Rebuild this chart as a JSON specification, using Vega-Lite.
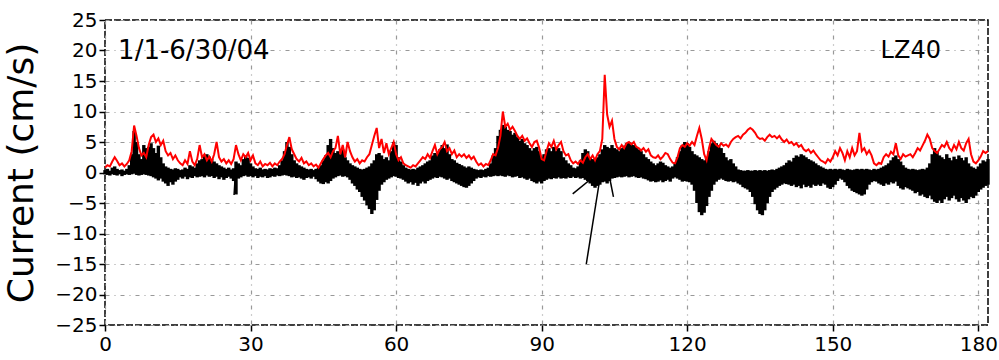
{
"$schema": "https://vega.github.io/schema/vega-lite/v6.json",
"width": 883, "height": 305,
"autosize": "none",
"padding": {"left": 105, "top": 20, "right": 11, "bottom": 35},
"background": "white",
"config": {
 "view": {"stroke": "black", "strokeWidth": 1.5, "strokeDash": [7, 2]},
 "axis": {"labelFont": "DejaVu Sans", "labelFontSize": 20, "labelColor": "black", "labelOverlap": false, "labelFlush": false, "tickColor": "black", "tickSize": 6, "tickWidth": 1.5, "domain": false, "grid": true, "gridColor": "#999999", "gridDash": [4, 5, 1, 5], "gridWidth": 1.2, "titleFont": "DejaVu Sans", "titleFontWeight": "normal", "titleColor": "black"}
},
"datasets": {
"series": [
{"t":0,"s":0.8,"p":0.4,"n":-0.3},{"t":0.5,"s":1.2,"p":0.6,"n":-0.4},{"t":1,"s":1.0,"p":0.3,"n":-0.5},{"t":1.5,"s":1.8,"p":0.8,"n":-0.3},{"t":2,"s":2.5,"p":1.0,"n":-0.4},{"t":2.5,"s":1.9,"p":0.6,"n":-0.5},{"t":3,"s":1.2,"p":0.4,"n":-0.3},{"t":3.5,"s":1.5,"p":0.5,"n":-0.6},{"t":4,"s":1.0,"p":0.3,"n":-0.4},{"t":4.5,"s":1.4,"p":0.6,"n":-0.3},
{"t":5,"s":2.0,"p":1.2,"n":-0.4},{"t":5.5,"s":3.5,"p":3.0,"n":-0.3},{"t":6,"s":7.7,"p":6.8,"n":-0.2},{"t":6.5,"s":6.0,"p":5.0,"n":-0.4},{"t":7,"s":4.0,"p":3.0,"n":-0.5},{"t":7.5,"s":2.8,"p":2.2,"n":-0.4},{"t":8,"s":3.2,"p":4.5,"n":-0.3},{"t":8.5,"s":2.5,"p":4.0,"n":-0.4},{"t":9,"s":4.5,"p":4.2,"n":-0.5},{"t":9.5,"s":5.8,"p":4.8,"n":-0.6},
{"t":10,"s":6.2,"p":4.0,"n":-0.8},{"t":10.5,"s":5.0,"p":3.2,"n":-1.0},{"t":11,"s":5.6,"p":4.4,"n":-1.3},{"t":11.5,"s":4.5,"p":2.5,"n":-1.0},{"t":12,"s":5.2,"p":1.5,"n":-1.5},{"t":12.5,"s":3.5,"p":1.0,"n":-1.8},{"t":13,"s":2.8,"p":0.8,"n":-2.2},{"t":13.5,"s":3.2,"p":0.6,"n":-1.6},{"t":14,"s":2.2,"p":0.5,"n":-2.0},{"t":14.5,"s":2.8,"p":0.7,"n":-1.5},
{"t":15,"s":2.0,"p":0.6,"n":-1.2},{"t":15.5,"s":1.5,"p":0.4,"n":-0.8},{"t":16,"s":1.2,"p":0.5,"n":-1.0},{"t":16.5,"s":2.0,"p":0.8,"n":-0.7},{"t":17,"s":1.4,"p":0.6,"n":-1.1},{"t":17.5,"s":3.5,"p":1.2,"n":-0.8},{"t":18,"s":1.8,"p":1.0,"n":-0.9},{"t":18.5,"s":1.2,"p":0.8,"n":-0.6},{"t":19,"s":2.2,"p":1.5,"n":-0.8},{"t":19.5,"s":4.5,"p":2.0,"n":-0.7},
{"t":20,"s":2.5,"p":2.2,"n":-0.6},{"t":20.5,"s":3.0,"p":2.8,"n":-0.8},{"t":21,"s":2.0,"p":3.0,"n":-0.5},{"t":21.5,"s":2.6,"p":2.6,"n":-0.7},{"t":22,"s":1.8,"p":2.2,"n":-0.6},{"t":22.5,"s":3.0,"p":1.8,"n":-0.9},{"t":23,"s":5.0,"p":1.5,"n":-0.7},{"t":23.5,"s":2.5,"p":1.2,"n":-1.1},{"t":24,"s":1.8,"p":1.0,"n":-0.8},{"t":24.5,"s":2.2,"p":0.8,"n":-1.2},
{"t":25,"s":1.5,"p":0.6,"n":-0.9},{"t":25.5,"s":2.0,"p":0.8,"n":-0.7},{"t":26,"s":1.4,"p":0.5,"n":-1.0},{"t":26.5,"s":2.2,"p":0.7,"n":-1.4},{"t":27,"s":4.5,"p":1.8,"n":-3.6},{"t":27.5,"s":3.0,"p":1.5,"n":-1.0},{"t":28,"s":2.0,"p":1.2,"n":-0.8},{"t":28.5,"s":3.0,"p":2.2,"n":-0.6},{"t":29,"s":2.5,"p":2.8,"n":-0.5},{"t":29.5,"s":3.2,"p":2.4,"n":-0.7},
{"t":30,"s":2.0,"p":1.5,"n":-0.6},{"t":30.5,"s":2.8,"p":1.0,"n":-0.8},{"t":31,"s":1.5,"p":0.7,"n":-0.6},{"t":31.5,"s":1.2,"p":0.6,"n":-0.9},{"t":32,"s":1.8,"p":0.8,"n":-0.7},{"t":32.5,"s":1.0,"p":0.5,"n":-0.8},{"t":33,"s":1.4,"p":0.6,"n":-0.6},{"t":33.5,"s":1.2,"p":0.5,"n":-0.9},{"t":34,"s":1.6,"p":0.7,"n":-0.8},{"t":34.5,"s":1.0,"p":0.6,"n":-0.6},
{"t":35,"s":1.5,"p":0.8,"n":-0.7},{"t":35.5,"s":1.2,"p":0.7,"n":-0.5},{"t":36,"s":1.8,"p":1.2,"n":-0.6},{"t":36.5,"s":2.2,"p":2.0,"n":-0.5},{"t":37,"s":3.0,"p":3.5,"n":-0.4},{"t":37.5,"s":4.5,"p":5.0,"n":-0.5},{"t":38,"s":5.8,"p":4.2,"n":-0.6},{"t":38.5,"s":3.8,"p":3.0,"n":-0.8},{"t":39,"s":3.0,"p":2.0,"n":-0.7},{"t":39.5,"s":2.2,"p":1.5,"n":-0.9},
{"t":40,"s":1.8,"p":1.2,"n":-0.8},{"t":40.5,"s":2.4,"p":1.0,"n":-1.0},{"t":41,"s":1.5,"p":0.8,"n":-1.2},{"t":41.5,"s":1.8,"p":0.6,"n":-0.9},{"t":42,"s":1.2,"p":0.5,"n":-0.8},{"t":42.5,"s":1.5,"p":0.6,"n":-1.0},{"t":43,"s":1.0,"p":0.4,"n":-0.7},{"t":43.5,"s":1.3,"p":0.6,"n":-1.1},{"t":44,"s":0.8,"p":0.8,"n":-1.5},{"t":44.5,"s":1.5,"p":1.2,"n":-1.8},
{"t":45,"s":2.2,"p":2.0,"n":-1.9},{"t":45.5,"s":2.8,"p":2.8,"n":-1.6},{"t":46,"s":3.2,"p":4.5,"n":-1.8},{"t":46.5,"s":2.5,"p":5.5,"n":-1.4},{"t":47,"s":3.5,"p":4.0,"n":-1.0},{"t":47.5,"s":4.0,"p":3.2,"n":-0.8},{"t":48,"s":6.0,"p":3.5,"n":-0.6},{"t":48.5,"s":3.0,"p":3.0,"n":-0.5},{"t":49,"s":4.5,"p":3.8,"n":-0.7},{"t":49.5,"s":2.5,"p":2.5,"n":-0.6},
{"t":50,"s":5.0,"p":2.0,"n":-0.8},{"t":50.5,"s":3.5,"p":1.5,"n":-1.2},{"t":51,"s":2.5,"p":1.2,"n":-1.8},{"t":51.5,"s":1.8,"p":1.0,"n":-2.2},{"t":52,"s":2.2,"p":0.8,"n":-2.8},{"t":52.5,"s":1.5,"p":0.6,"n":-3.2},{"t":53,"s":2.0,"p":0.5,"n":-4.0},{"t":53.5,"s":1.8,"p":0.6,"n":-4.6},{"t":54,"s":2.5,"p":0.8,"n":-5.4},{"t":54.5,"s":3.0,"p":1.0,"n":-6.0},
{"t":55,"s":4.5,"p":1.5,"n":-6.8},{"t":55.5,"s":6.0,"p":2.0,"n":-6.2},{"t":56,"s":7.3,"p":3.0,"n":-4.5},{"t":56.5,"s":4.0,"p":3.2,"n":-3.0},{"t":57,"s":5.5,"p":2.8,"n":-2.0},{"t":57.5,"s":3.2,"p":2.2,"n":-1.6},{"t":58,"s":4.8,"p":2.5,"n":-1.2},{"t":58.5,"s":3.0,"p":2.0,"n":-1.0},{"t":59,"s":4.0,"p":3.5,"n":-0.8},{"t":59.5,"s":5.0,"p":5.0,"n":-0.6},
{"t":60,"s":3.0,"p":4.5,"n":-0.7},{"t":60.5,"s":2.0,"p":2.5,"n":-0.9},{"t":61,"s":2.5,"p":1.8,"n":-1.0},{"t":61.5,"s":1.5,"p":1.2,"n":-1.2},{"t":62,"s":1.2,"p":0.8,"n":-1.5},{"t":62.5,"s":1.0,"p":0.6,"n":-1.8},{"t":63,"s":0.8,"p":0.5,"n":-1.6},{"t":63.5,"s":1.2,"p":0.6,"n":-2.0},{"t":64,"s":1.0,"p":0.5,"n":-1.7},{"t":64.5,"s":1.5,"p":0.8,"n":-2.2},
{"t":65,"s":2.0,"p":1.0,"n":-1.8},{"t":65.5,"s":2.5,"p":1.2,"n":-1.5},{"t":66,"s":2.2,"p":1.5,"n":-1.8},{"t":66.5,"s":3.0,"p":1.8,"n":-1.4},{"t":67,"s":2.4,"p":2.0,"n":-1.2},{"t":67.5,"s":3.5,"p":2.8,"n":-1.0},{"t":68,"s":4.5,"p":3.2,"n":-0.8},{"t":68.5,"s":3.0,"p":3.0,"n":-0.9},{"t":69,"s":3.8,"p":3.8,"n":-0.7},{"t":69.5,"s":4.2,"p":4.5,"n":-0.8},
{"t":70,"s":5.0,"p":4.0,"n":-1.0},{"t":70.5,"s":3.5,"p":4.6,"n":-1.2},{"t":71,"s":4.0,"p":3.0,"n":-1.0},{"t":71.5,"s":3.0,"p":2.2,"n":-1.4},{"t":72,"s":3.6,"p":2.0,"n":-1.6},{"t":72.5,"s":2.5,"p":1.6,"n":-1.8},{"t":73,"s":3.0,"p":1.4,"n":-2.0},{"t":73.5,"s":2.6,"p":1.2,"n":-2.2},{"t":74,"s":3.0,"p":1.0,"n":-2.4},{"t":74.5,"s":2.4,"p":0.8,"n":-2.5},
{"t":75,"s":2.8,"p":1.0,"n":-2.2},{"t":75.5,"s":2.2,"p":0.8,"n":-1.8},{"t":76,"s":2.6,"p":0.6,"n":-1.4},{"t":76.5,"s":1.8,"p":0.5,"n":-1.0},{"t":77,"s":1.2,"p":0.4,"n":-0.8},{"t":77.5,"s":1.5,"p":0.5,"n":-0.9},{"t":78,"s":1.0,"p":0.4,"n":-0.7},{"t":78.5,"s":1.4,"p":0.6,"n":-0.8},{"t":79,"s":1.2,"p":0.8,"n":-0.6},{"t":79.5,"s":2.0,"p":1.5,"n":-0.7},
{"t":80,"s":3.0,"p":2.8,"n":-0.6},{"t":80.5,"s":2.8,"p":4.0,"n":-0.5},{"t":81,"s":4.0,"p":6.0,"n":-0.6},{"t":81.5,"s":6.0,"p":7.0,"n":-0.5},{"t":82,"s":10.0,"p":7.8,"n":-0.6},{"t":82.5,"s":7.5,"p":7.5,"n":-0.7},{"t":83,"s":8.0,"p":7.0,"n":-0.5},{"t":83.5,"s":7.0,"p":6.8,"n":-0.6},{"t":84,"s":7.5,"p":6.2,"n":-0.8},{"t":84.5,"s":6.8,"p":6.5,"n":-0.7},
{"t":85,"s":6.0,"p":5.8,"n":-0.6},{"t":85.5,"s":5.5,"p":5.2,"n":-0.9},{"t":86,"s":6.0,"p":5.5,"n":-0.8},{"t":86.5,"s":5.2,"p":4.8,"n":-1.0},{"t":87,"s":5.6,"p":4.5,"n":-1.2},{"t":87.5,"s":4.8,"p":4.0,"n":-1.0},{"t":88,"s":4.2,"p":3.6,"n":-1.4},{"t":88.5,"s":5.0,"p":4.0,"n":-1.6},{"t":89,"s":5.2,"p":4.2,"n":-1.8},{"t":89.5,"s":4.0,"p":3.5,"n":-1.5},
{"t":90,"s":2.2,"p":2.5,"n":-1.8},{"t":90.5,"s":2.0,"p":3.0,"n":-1.4},{"t":91,"s":3.5,"p":3.8,"n":-1.2},{"t":91.5,"s":4.8,"p":4.0,"n":-1.0},{"t":92,"s":4.2,"p":3.5,"n":-1.1},{"t":92.5,"s":5.2,"p":4.2,"n":-0.9},{"t":93,"s":3.8,"p":3.6,"n":-1.0},{"t":93.5,"s":4.5,"p":4.0,"n":-0.8},{"t":94,"s":5.0,"p":3.5,"n":-1.0},{"t":94.5,"s":3.5,"p":2.5,"n":-0.9},
{"t":95,"s":2.8,"p":2.0,"n":-1.0},{"t":95.5,"s":3.0,"p":1.5,"n":-0.8},{"t":96,"s":2.0,"p":1.2,"n":-0.9},{"t":96.5,"s":1.5,"p":0.8,"n":-0.7},{"t":97,"s":1.8,"p":0.7,"n":-0.9},{"t":97.5,"s":1.4,"p":1.0,"n":-0.8},{"t":98,"s":2.0,"p":2.0,"n":-1.0},{"t":98.5,"s":1.6,"p":3.2,"n":-0.9},{"t":99,"s":2.5,"p":3.8,"n":-1.2},{"t":99.5,"s":3.0,"p":3.5,"n":-1.4},
{"t":100,"s":2.2,"p":2.5,"n":-1.8},{"t":100.5,"s":2.8,"p":2.2,"n":-2.2},{"t":101,"s":2.0,"p":2.0,"n":-2.5},{"t":101.5,"s":3.0,"p":2.5,"n":-2.2},{"t":102,"s":3.5,"p":3.0,"n":-2.0},{"t":102.5,"s":5.5,"p":3.8,"n":-1.6},{"t":103,"s":16.0,"p":4.5,"n":-1.5},{"t":103.5,"s":9.5,"p":4.2,"n":-1.8},{"t":104,"s":7.5,"p":4.0,"n":-1.4},{"t":104.5,"s":8.5,"p":4.5,"n":-1.0},
{"t":105,"s":5.5,"p":4.0,"n":-0.9},{"t":105.5,"s":4.2,"p":3.8,"n":-0.8},{"t":106,"s":3.8,"p":3.5,"n":-0.7},{"t":106.5,"s":4.5,"p":4.0,"n":-0.8},{"t":107,"s":4.0,"p":4.4,"n":-0.7},{"t":107.5,"s":4.8,"p":4.8,"n":-0.6},{"t":108,"s":5.0,"p":5.0,"n":-0.8},{"t":108.5,"s":4.6,"p":4.6,"n":-0.7},{"t":109,"s":5.0,"p":4.5,"n":-0.6},{"t":109.5,"s":4.2,"p":4.2,"n":-0.8},
{"t":110,"s":4.0,"p":3.8,"n":-0.9},{"t":110.5,"s":3.6,"p":3.5,"n":-0.8},{"t":111,"s":4.0,"p":3.0,"n":-1.0},{"t":111.5,"s":3.4,"p":2.5,"n":-1.1},{"t":112,"s":3.8,"p":2.2,"n":-1.3},{"t":112.5,"s":2.8,"p":1.8,"n":-1.5},{"t":113,"s":2.5,"p":1.5,"n":-1.4},{"t":113.5,"s":2.4,"p":1.2,"n":-1.6},{"t":114,"s":2.8,"p":1.5,"n":-1.5},{"t":114.5,"s":2.2,"p":1.8,"n":-1.3},
{"t":115,"s":2.6,"p":1.6,"n":-1.6},{"t":115.5,"s":3.2,"p":1.2,"n":-1.4},{"t":116,"s":3.0,"p":1.0,"n":-1.2},{"t":116.5,"s":2.2,"p":0.8,"n":-1.5},{"t":117,"s":1.6,"p":1.0,"n":-1.0},{"t":117.5,"s":1.5,"p":1.5,"n":-0.8},{"t":118,"s":2.5,"p":2.5,"n":-1.0},{"t":118.5,"s":4.0,"p":3.5,"n":-1.2},{"t":119,"s":4.5,"p":4.5,"n":-1.5},{"t":119.5,"s":4.2,"p":5.0,"n":-1.4},
{"t":120,"s":4.8,"p":4.8,"n":-1.5},{"t":120.5,"s":4.4,"p":4.2,"n":-1.6},{"t":121,"s":5.0,"p":3.5,"n":-2.0},{"t":121.5,"s":4.5,"p":3.0,"n":-3.0},{"t":122,"s":6.0,"p":2.8,"n":-5.0},{"t":122.5,"s":7.3,"p":2.5,"n":-6.5},{"t":123,"s":5.5,"p":2.2,"n":-7.0},{"t":123.5,"s":3.0,"p":2.0,"n":-6.6},{"t":124,"s":2.0,"p":2.5,"n":-5.5},{"t":124.5,"s":4.0,"p":3.5,"n":-4.0},
{"t":125,"s":5.5,"p":4.8,"n":-3.0},{"t":125.5,"s":5.0,"p":5.2,"n":-2.0},{"t":126,"s":4.5,"p":4.8,"n":-1.5},{"t":126.5,"s":4.2,"p":4.5,"n":-1.2},{"t":127,"s":4.8,"p":4.0,"n":-1.0},{"t":127.5,"s":4.4,"p":3.2,"n":-1.2},{"t":128,"s":4.6,"p":2.5,"n":-1.4},{"t":128.5,"s":4.2,"p":2.0,"n":-1.5},{"t":129,"s":5.0,"p":2.2,"n":-1.4},{"t":129.5,"s":5.5,"p":1.5,"n":-1.6},
{"t":130,"s":5.8,"p":1.0,"n":-1.5},{"t":130.5,"s":6.0,"p":0.5,"n":-1.8},{"t":131,"s":5.6,"p":0.4,"n":-2.0},{"t":131.5,"s":6.2,"p":0.3,"n":-2.4},{"t":132,"s":6.5,"p":0.3,"n":-2.6},{"t":132.5,"s":7.0,"p":0.4,"n":-2.8},{"t":133,"s":7.3,"p":0.3,"n":-3.2},{"t":133.5,"s":7.0,"p":0.3,"n":-4.0},{"t":134,"s":6.5,"p":0.4,"n":-5.2},{"t":134.5,"s":5.8,"p":0.3,"n":-6.2},
{"t":135,"s":5.5,"p":0.4,"n":-6.8},{"t":135.5,"s":5.6,"p":0.3,"n":-7.0},{"t":136,"s":5.2,"p":0.4,"n":-6.2},{"t":136.5,"s":5.8,"p":0.3,"n":-5.0},{"t":137,"s":6.2,"p":0.4,"n":-4.0},{"t":137.5,"s":5.8,"p":0.5,"n":-3.2},{"t":138,"s":6.0,"p":0.4,"n":-2.8},{"t":138.5,"s":5.6,"p":0.6,"n":-2.5},{"t":139,"s":6.0,"p":0.8,"n":-2.2},{"t":139.5,"s":5.4,"p":1.0,"n":-2.0},
{"t":140,"s":5.0,"p":1.2,"n":-1.8},{"t":140.5,"s":5.4,"p":1.6,"n":-1.9},{"t":141,"s":4.8,"p":2.0,"n":-2.0},{"t":141.5,"s":5.0,"p":1.8,"n":-2.2},{"t":142,"s":4.5,"p":2.4,"n":-2.0},{"t":142.5,"s":4.8,"p":2.8,"n":-2.4},{"t":143,"s":4.2,"p":2.6,"n":-2.2},{"t":143.5,"s":4.5,"p":3.0,"n":-2.6},{"t":144,"s":3.8,"p":2.8,"n":-2.0},{"t":144.5,"s":3.5,"p":2.5,"n":-2.4},
{"t":145,"s":3.8,"p":2.2,"n":-2.2},{"t":145.5,"s":3.2,"p":2.0,"n":-2.5},{"t":146,"s":3.6,"p":1.8,"n":-2.0},{"t":146.5,"s":3.0,"p":1.5,"n":-2.2},{"t":147,"s":2.5,"p":1.2,"n":-2.0},{"t":147.5,"s":2.0,"p":1.0,"n":-2.2},{"t":148,"s":1.8,"p":0.8,"n":-1.8},{"t":148.5,"s":1.5,"p":0.6,"n":-2.0},{"t":149,"s":2.2,"p":0.5,"n":-2.5},{"t":149.5,"s":1.8,"p":0.6,"n":-2.7},
{"t":150,"s":2.5,"p":0.5,"n":-2.4},{"t":150.5,"s":3.5,"p":0.6,"n":-2.0},{"t":151,"s":2.8,"p":0.5,"n":-1.4},{"t":151.5,"s":4.0,"p":0.6,"n":-1.0},{"t":152,"s":3.2,"p":0.5,"n":-1.2},{"t":152.5,"s":2.0,"p":0.4,"n":-1.6},{"t":153,"s":3.5,"p":0.6,"n":-2.2},{"t":153.5,"s":2.5,"p":0.5,"n":-2.6},{"t":154,"s":4.0,"p":0.4,"n":-3.0},{"t":154.5,"s":2.8,"p":0.5,"n":-3.2},
{"t":155,"s":3.5,"p":0.6,"n":-3.4},{"t":155.5,"s":6.5,"p":0.5,"n":-3.6},{"t":156,"s":3.5,"p":0.6,"n":-3.8},{"t":156.5,"s":4.0,"p":0.5,"n":-3.6},{"t":157,"s":3.0,"p":0.6,"n":-2.8},{"t":157.5,"s":3.6,"p":0.5,"n":-2.0},{"t":158,"s":2.8,"p":0.4,"n":-1.6},{"t":158.5,"s":1.5,"p":0.6,"n":-1.4},{"t":159,"s":1.2,"p":0.5,"n":-1.5},{"t":159.5,"s":1.6,"p":0.6,"n":-1.8},
{"t":160,"s":1.4,"p":0.8,"n":-2.0},{"t":160.5,"s":2.5,"p":1.0,"n":-2.2},{"t":161,"s":3.0,"p":1.2,"n":-1.8},{"t":161.5,"s":2.6,"p":1.5,"n":-2.0},{"t":162,"s":3.4,"p":2.0,"n":-1.6},{"t":162.5,"s":3.0,"p":2.5,"n":-1.8},{"t":163,"s":4.8,"p":2.8,"n":-1.5},{"t":163.5,"s":2.8,"p":2.2,"n":-2.2},{"t":164,"s":2.2,"p":1.8,"n":-2.6},{"t":164.5,"s":3.0,"p":1.2,"n":-2.8},
{"t":165,"s":2.6,"p":0.8,"n":-2.4},{"t":165.5,"s":2.8,"p":0.6,"n":-2.6},{"t":166,"s":3.0,"p":0.5,"n":-2.8},{"t":166.5,"s":2.5,"p":0.6,"n":-3.0},{"t":167,"s":3.2,"p":0.5,"n":-3.4},{"t":167.5,"s":4.0,"p":0.4,"n":-3.2},{"t":168,"s":3.6,"p":0.5,"n":-3.8},{"t":168.5,"s":4.4,"p":0.6,"n":-3.6},{"t":169,"s":5.2,"p":0.5,"n":-4.0},{"t":169.5,"s":6.2,"p":0.8,"n":-4.2},
{"t":170,"s":5.5,"p":1.5,"n":-3.8},{"t":170.5,"s":4.0,"p":3.0,"n":-4.4},{"t":171,"s":3.5,"p":4.0,"n":-4.8},{"t":171.5,"s":3.2,"p":3.5,"n":-5.0},{"t":172,"s":3.8,"p":2.8,"n":-4.6},{"t":172.5,"s":4.5,"p":2.5,"n":-5.0},{"t":173,"s":4.2,"p":2.2,"n":-4.4},{"t":173.5,"s":5.0,"p":3.0,"n":-4.0},{"t":174,"s":4.0,"p":2.4,"n":-4.6},{"t":174.5,"s":3.5,"p":2.0,"n":-4.2},
{"t":175,"s":4.5,"p":2.6,"n":-3.8},{"t":175.5,"s":3.8,"p":2.2,"n":-4.4},{"t":176,"s":5.0,"p":2.8,"n":-4.8},{"t":176.5,"s":4.0,"p":2.4,"n":-4.2},{"t":177,"s":3.6,"p":2.0,"n":-4.6},{"t":177.5,"s":4.8,"p":2.5,"n":-5.0},{"t":178,"s":5.5,"p":1.5,"n":-4.4},{"t":178.5,"s":3.0,"p":1.0,"n":-4.0},{"t":179,"s":1.8,"p":0.8,"n":-4.2},{"t":179.5,"s":1.5,"p":0.6,"n":-3.8},
{"t":180,"s":2.0,"p":1.0,"n":-3.2},{"t":180.5,"s":2.6,"p":1.5,"n":-2.8},{"t":181,"s":3.5,"p":2.0,"n":-2.5},{"t":181.5,"s":3.2,"p":1.8,"n":-2.2},{"t":182,"s":3.5,"p":2.2,"n":-2.0}
],
"sticks": [
{"t":102.2,"te":99.2,"v":-15},{"t":101.8,"te":96.4,"v":-3.5},{"t":103.8,"te":104.8,"v":-4},{"t":26.9,"te":26.6,"v":-3.7}
],
"labels": [
{"label":"1/1-6/30/04","x":2.7,"y":20},
{"label":"LZ40","x":172.3,"y":20}
]
},
"layer": [
{
 "data": {"name": "series"},
 "mark": {"type": "rule", "color": "black", "strokeWidth": 3.4},
 "encoding": {
  "x": {"field": "t", "type": "quantitative", "title": null, "scale": {"domain": [0, 182], "nice": false, "zero": false}, "axis": {"values": [0, 30, 60, 90, 120, 150, 180], "tickCount": 7, "labelPadding": 3, "labelOverlap": false}},
  "y": {"field": "n", "type": "quantitative", "title": "Current (cm/s)", "scale": {"domain": [-25, 25], "nice": false}, "axis": {"values": [-25, -20, -15, -10, -5, 0, 5, 10, 15, 20, 25], "tickCount": 11, "labelPadding": 2, "labelOverlap": false, "titleFontSize": 36, "titlePadding": 14}},
  "y2": {"field": "p"}
 }
},
{
 "data": {"name": "sticks"},
 "mark": {"type": "rule", "color": "black", "strokeWidth": 1.5},
 "encoding": {
  "x": {"field": "te", "type": "quantitative", "title": null},
  "x2": {"field": "t"},
  "y": {"field": "v", "type": "quantitative", "title": "Current (cm/s)"},
  "y2": {"datum": 0}
 }
},
{
 "data": {"name": "series"},
 "mark": {"type": "line", "color": "#ff0000", "strokeWidth": 2},
 "encoding": {
  "x": {"field": "t", "type": "quantitative", "title": null},
  "y": {"field": "s", "type": "quantitative", "title": "Current (cm/s)"}
 }
},
{
 "data": {"name": "labels"},
 "transform": [{"filter": "datum.x < 100"}],
 "mark": {"type": "text", "align": "left", "baseline": "middle", "font": "DejaVu Sans", "fontSize": 26, "color": "black"},
 "encoding": {
  "x": {"field": "x", "type": "quantitative", "title": null},
  "y": {"field": "y", "type": "quantitative", "title": "Current (cm/s)"},
  "text": {"field": "label"}
 }
},
{
 "data": {"name": "labels"},
 "transform": [{"filter": "datum.x > 100"}],
 "mark": {"type": "text", "align": "right", "baseline": "middle", "font": "DejaVu Sans", "fontSize": 24, "color": "black"},
 "encoding": {
  "x": {"field": "x", "type": "quantitative", "title": null},
  "y": {"field": "y", "type": "quantitative", "title": "Current (cm/s)"},
  "text": {"field": "label"}
 }
}
]
}
